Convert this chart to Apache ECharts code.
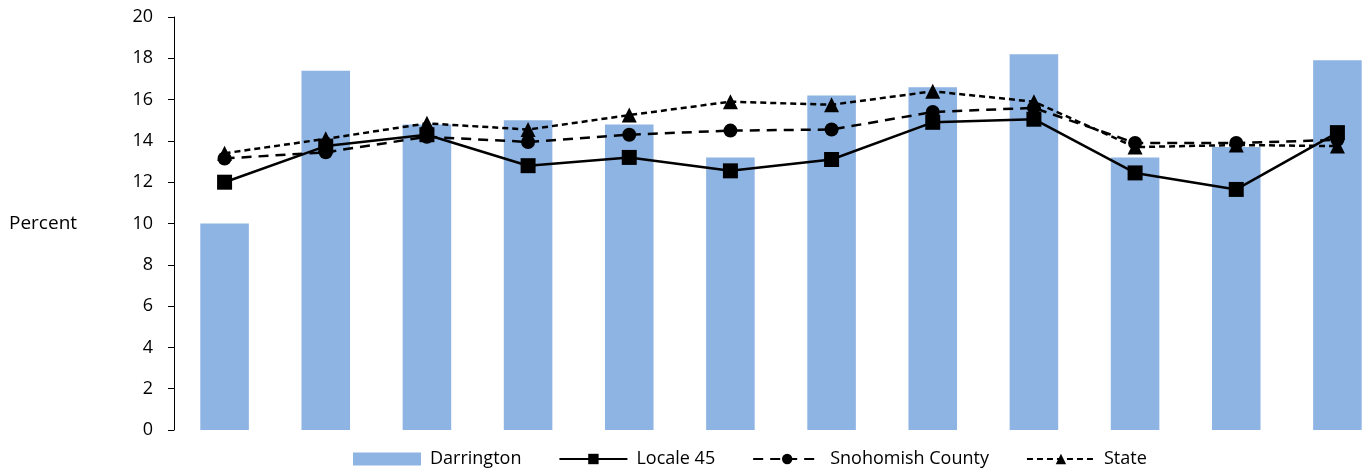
<!DOCTYPE html>
<html>
<head>
<meta charset="utf-8">
<script src="https://cdn.jsdelivr.net/npm/echarts@6/dist/echarts.min.js"></script>
<style>
  html, body { margin: 0; padding: 0; background: #fff; }
  #chart { width: 1368px; height: 473px; }
</style>
</head>
<body>
<div id="chart"></div>
<script>
// 12 unlabelled categories
var categories = ['1', '2', '3', '4', '5', '6', '7', '8', '9', '10', '11', '12']
var darrington = [10.0, 17.4, 14.8, 15.0, 14.8, 13.2, 16.2, 16.6, 18.2, 13.2, 13.7, 17.9]
var locale45 = [12.0, 13.75, 14.3, 12.8, 13.2, 12.55, 13.1, 14.9, 15.05, 12.45, 11.65, 14.4]
var snohomish = [13.15, 13.45, 14.2, 13.95, 14.3, 14.5, 14.55, 15.4, 15.6, 13.9, 13.9, 14.05]
var state = [13.4, 14.1, 14.85, 14.55, 15.25, 15.9, 15.75, 16.4, 15.9, 13.7, 13.8, 13.75]
var yTicks = { min: 0, max: 20, interval: 2 }

var font = '"Open Sans", "Noto Sans", sans-serif'
var chart = echarts.init(document.getElementById('chart'))

chart.setOption({
  animation: false,
  textStyle: { fontFamily: font },
  // plot area runs past the right edge, as in the original
  grid: {
    left: 174,
    width: 1214,
    top: 17,
    bottom: 43,
    containLabel: false,
    outerBoundsMode: 'none'
  },
  graphic: [
    {
      type: 'text',
      left: 9,
      top: 214,
      style: { text: 'Percent', fontSize: 19, fill: '#000', fontFamily: font }
    }
  ],
  legend: {
    bottom: 0,
    left: 348,
    itemWidth: 68,
    itemHeight: 13,
    itemGap: 37,
    textStyle: { fontSize: 18, color: '#000', fontFamily: font, padding: [0, 0, 0, 4] },
    data: [
      { name: 'Darrington', icon: 'rect' },
      'Locale 45',
      'Snohomish County',
      'State'
    ]
  },
  xAxis: {
    type: 'category',
    data: categories,
    axisLine: { show: false },
    axisTick: { show: false },
    axisLabel: { show: false }
  },
  yAxis: {
    type: 'value',
    min: yTicks.min,
    max: yTicks.max,
    interval: yTicks.interval,
    axisLine: { show: true, lineStyle: { color: '#000', width: 1 } },
    axisTick: { show: true, length: 6, lineStyle: { color: '#000' } },
    axisLabel: { fontSize: 18, color: '#000', margin: 21, fontFamily: font },
    splitLine: { show: false }
  },
  series: [
    {
      name: 'Darrington',
      type: 'bar',
      data: darrington,
      barWidth: '48%',
      itemStyle: { color: '#8EB4E3' }
    },
    {
      name: 'Locale 45',
      type: 'line',
      data: locale45,
      symbol: 'rect',
      symbolSize: 15,
      lineStyle: { color: '#000', width: 2.5 },
      itemStyle: { color: '#000' }
    },
    {
      name: 'Snohomish County',
      type: 'line',
      data: snohomish,
      symbol: 'circle',
      symbolSize: 14,
      lineStyle: { color: '#000', width: 2.5, type: [10, 7] },
      itemStyle: { color: '#000' }
    },
    {
      name: 'State',
      type: 'line',
      data: state,
      symbol: 'triangle',
      symbolSize: 15,
      lineStyle: { color: '#000', width: 2.5, type: [6, 4] },
      itemStyle: { color: '#000' }
    }
  ]
})
</script>
</body>
</html>
